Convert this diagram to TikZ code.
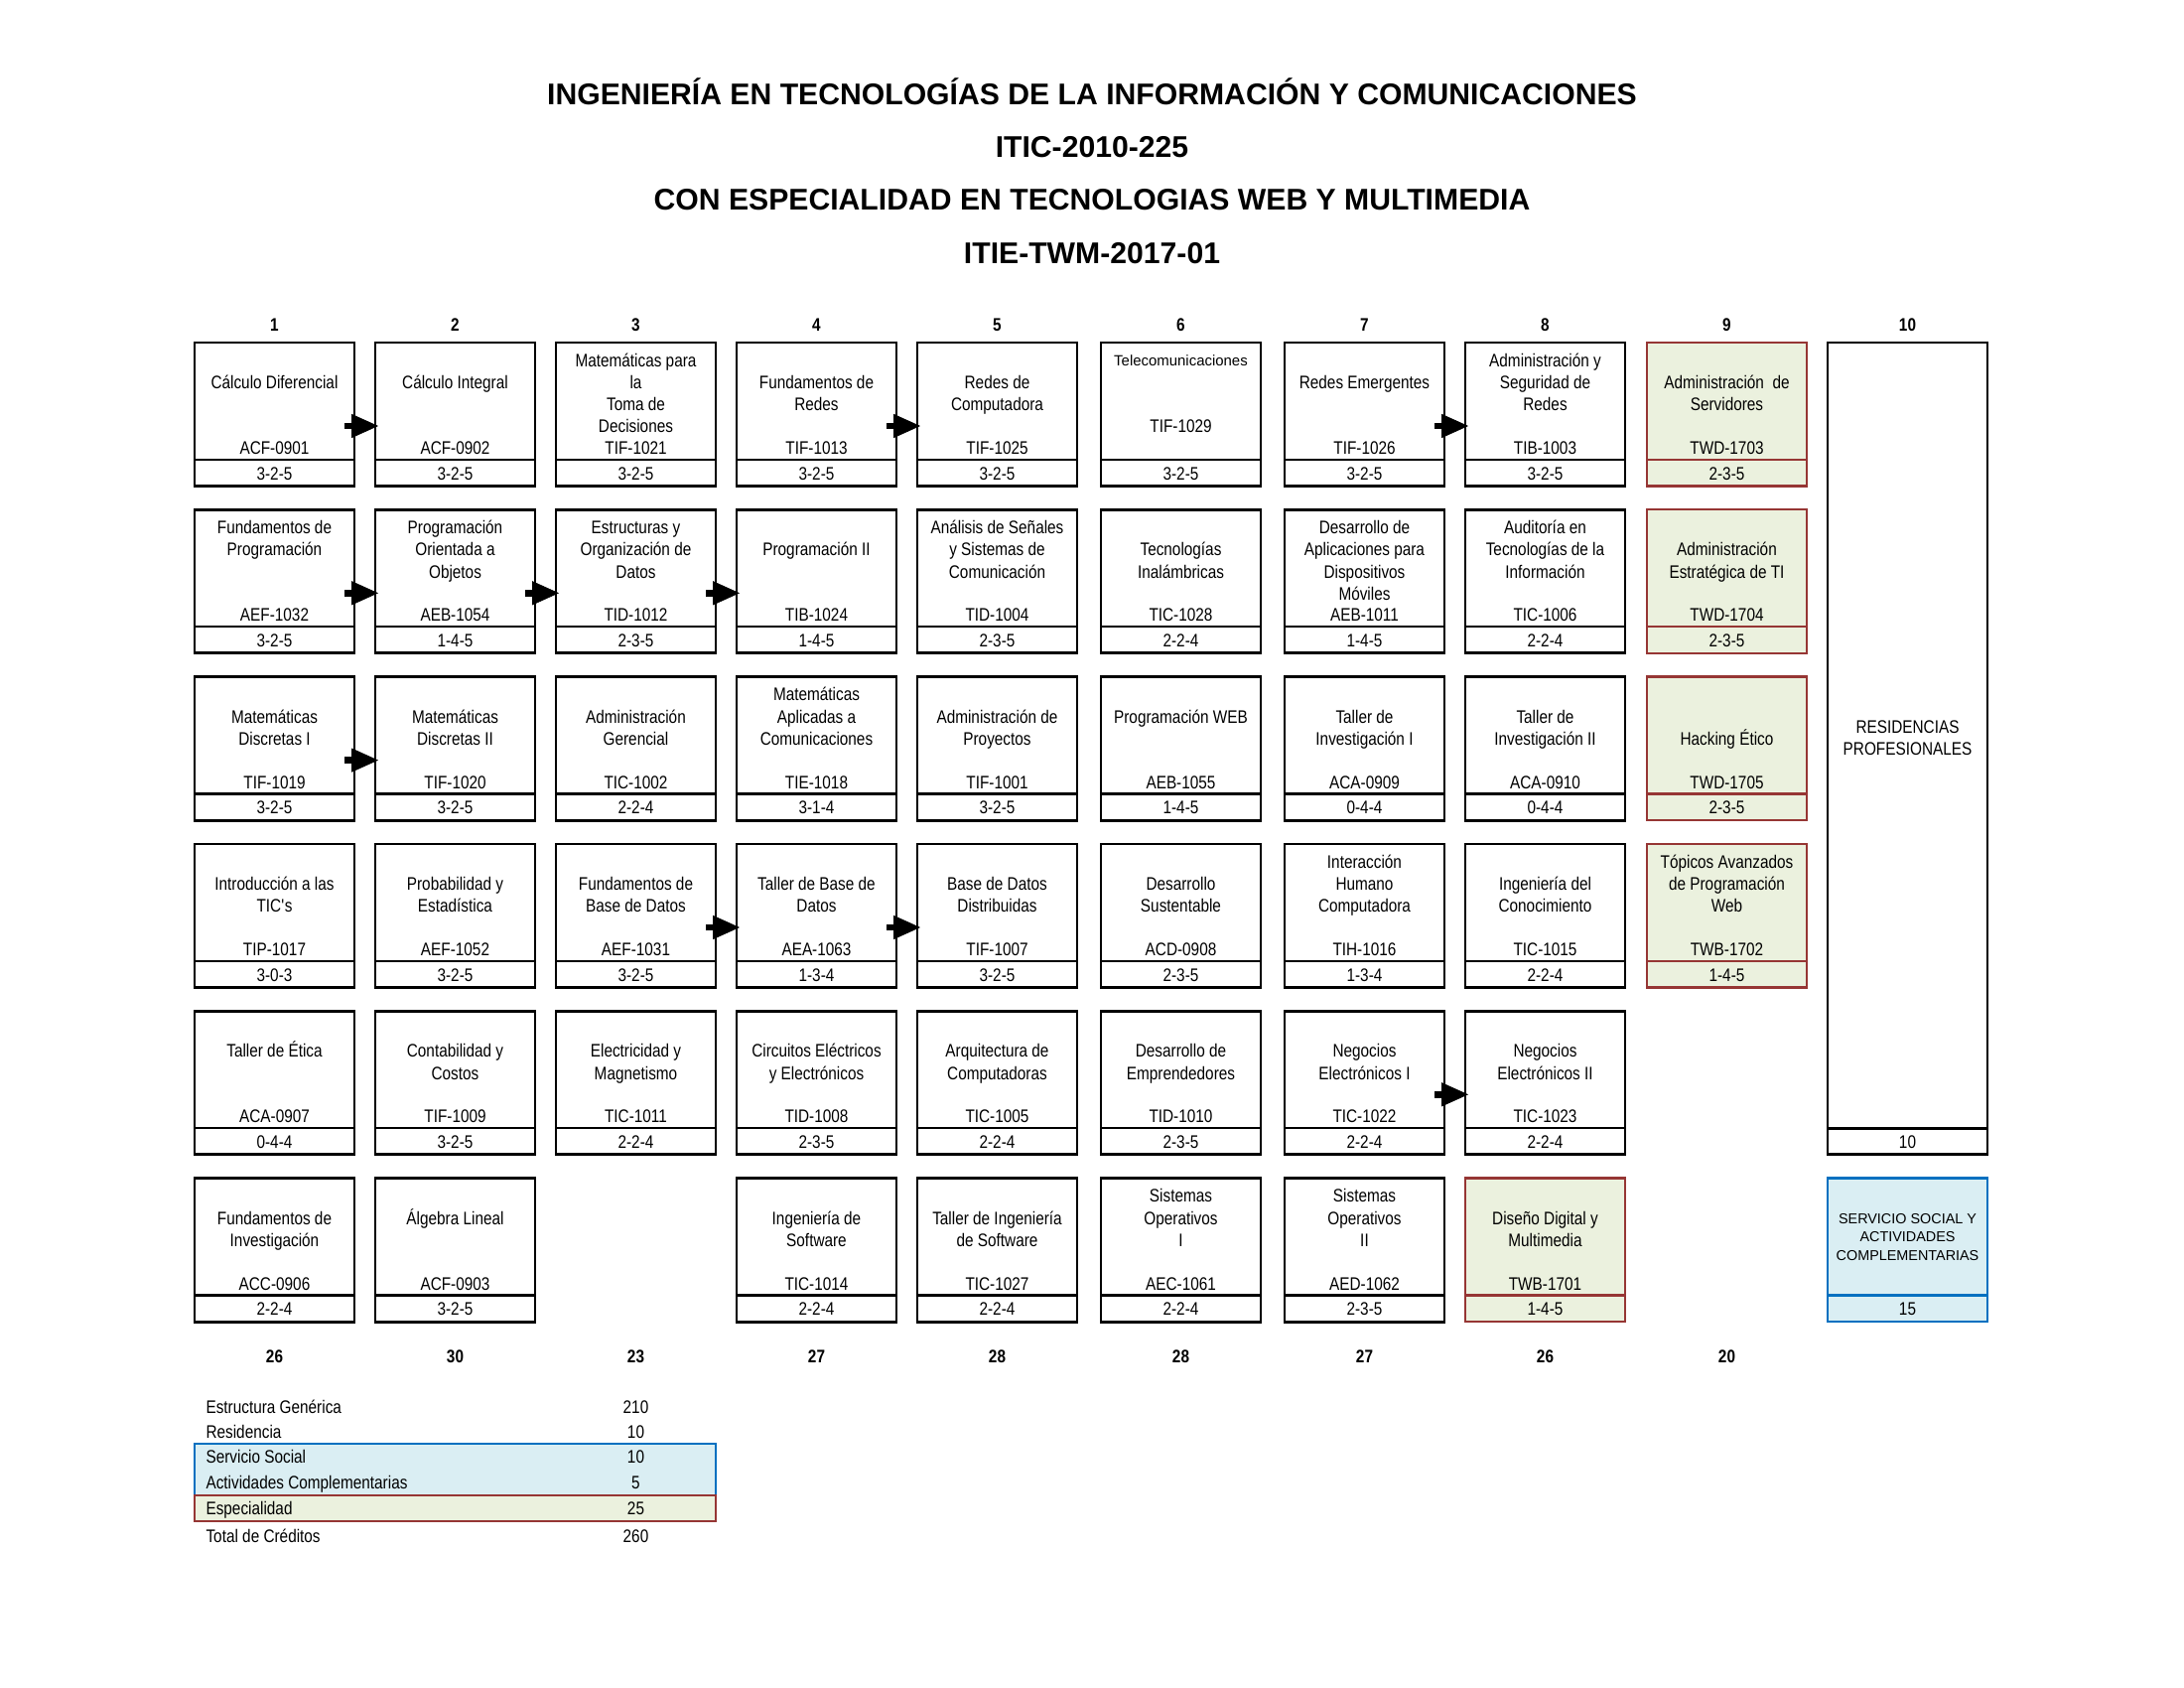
\documentclass[tikz,border=0pt]{standalone}
\usepackage{fontspec}
\setmainfont{Liberation Sans}
\newfontfamily\nar[FakeStretch=0.84]{Liberation Sans}
\usetikzlibrary{arrows.meta}
\definecolor{gfill}{RGB}{235,241,222}
\definecolor{rbord}{RGB}{150,54,52}
\definecolor{bfill}{RGB}{218,238,243}
\definecolor{bbord}{RGB}{0,112,192}
\newcommand\tstrut{\rule{0pt}{6.5pt}}
% #1 style, #2 name, #3 x-left, #4 y-top, #5 first title slot, #6 title, #7 code, #8 credits
\newcommand\curso[8][wbox]{%
  \node[#1] (#2) at (#3,#4) {};
  \draw[#1div] ([shift={(0,-26.5)}]#2.south west) -- ([shift={(0,-26.5)}]#2.south east);
  \node[ttl] (#2t) at ([shift={(80.5,{5.8+22.2*(#5-1)})}]#2.north west) {\tstrut #6};
  \node[cod] (#2c) at ([shift={(80.5,112.5)}]#2.north west) {#7};
  \node[cod] (#2k) at ([shift={(80.5,138)}]#2.north west) {#8};
}
\newcommand\enlace[2]{\draw[arr] ([shift={(-10,84)}]#1.north east) -- ([shift={(3,84)}]#2.north west);}
\begin{document}
\begin{tikzpicture}[x=0.127mm,y=-0.127mm,
  wbox/.style={draw=black,line width=0.356mm,minimum width=20.45mm,minimum height=18.35mm,inner sep=0pt,outer sep=0pt,anchor=north west},
  wboxdiv/.style={draw=black,line width=0.3mm},
  gbox/.style={wbox,draw=rbord,fill=gfill,line width=0.3mm},
  gboxdiv/.style={draw=rbord,line width=0.3mm},
  bbox/.style={wbox,draw=bbord,fill=bfill,line width=0.33mm},
  bboxdiv/.style={draw=bbord,line width=0.33mm},
  txt/.style={font=\nar\fontsize{6.6}{8.02}\selectfont,inner sep=0pt},
  ttl/.style={txt,anchor=north,align=center},
  cod/.style={txt,anchor=base},
  lbl/.style={txt,anchor=base west},
  num/.style={font=\nar\bfseries\fontsize{6.6}{8}\selectfont,inner sep=0pt,anchor=base},
  head/.style={font=\bfseries\fontsize{10.9}{13}\selectfont,inner sep=0pt,anchor=base},
  arr/.style={line width=0.85mm,-{Triangle[length=3.4mm,width=3.05mm,line width=0.2pt]}},
]
\useasboundingbox (0,0) rectangle (2200,1700);

% titles
\node[head] (h1) at (1100,105.3) {INGENIERÍA EN TECNOLOGÍAS DE LA INFORMACIÓN Y COMUNICACIONES};
\node[head] (h2) at (1100,158.8) {ITIC-2010-225};
\node[head] (h3) at (1100,211.3) {CON ESPECIALIDAD EN TECNOLOGIAS WEB Y MULTIMEDIA};
\node[head] (h4) at (1100,265.3) {ITIE-TWM-2017-01};

% column numbers
\foreach \x/\n [count=\i] in {196/1,378/2,560/3,742/4,924/5,1109/6,1294/7,1476/8,1659/9,1841/10}
  \node[num] (col\i) at (\x+80.5,333) {\n};
% semester totals
\foreach \x/\n [count=\i] in {196/26,378/30,560/23,742/27,924/28,1109/28,1294/27,1476/26,1659/20}
  \node[num] (sum\i) at (\x+80.5,1372) {\n};

% row 1
\curso{b11}{196}{345}{2}{Cálculo Diferencial}{ACF-0901}{3-2-5}
\curso{b12}{378}{345}{2}{Cálculo Integral}{ACF-0902}{3-2-5}
\curso{b13}{560}{345}{1}{Matemáticas para\\la\\Toma de\\Decisiones}{TIF-1021}{3-2-5}
\curso{b14}{742}{345}{2}{Fundamentos de\\Redes}{TIF-1013}{3-2-5}
\curso{b15}{924}{345}{2}{Redes de\\Computadora}{TIF-1025}{3-2-5}
\node[wbox] (b16) at (1109,345) {};
\draw[wboxdiv] ([shift={(0,-26.5)}]b16.south west) -- ([shift={(0,-26.5)}]b16.south east);
\node[font=\fontsize{5.4}{6.5}\selectfont,inner sep=0pt,anchor=base] (b16t) at ([shift={(80.5,23.6)}]b16.north west) {Telecomunicaciones};
\node[cod] (b16c) at ([shift={(80.5,90.4)}]b16.north west) {TIF-1029};
\node[cod] (b16k) at ([shift={(80.5,138)}]b16.north west) {3-2-5};
\curso{b17}{1294}{345}{2}{Redes Emergentes}{TIF-1026}{3-2-5}
\curso{b18}{1476}{345}{1}{Administración y\\Seguridad de\\Redes}{TIB-1003}{3-2-5}
\curso[gbox]{b19}{1659}{345}{2}{Administración\ \ de\\Servidores}{TWD-1703}{2-3-5}

% row 2
\curso{b21}{196}{513.3}{1}{Fundamentos de\\Programación}{AEF-1032}{3-2-5}
\curso{b22}{378}{513.3}{1}{Programación\\Orientada a\\Objetos}{AEB-1054}{1-4-5}
\curso{b23}{560}{513.3}{1}{Estructuras y\\Organización de\\Datos}{TID-1012}{2-3-5}
\curso{b24}{742}{513.3}{2}{Programación II}{TIB-1024}{1-4-5}
\curso{b25}{924}{513.3}{1}{Análisis de Señales\\y Sistemas de\\Comunicación}{TID-1004}{2-3-5}
\curso{b26}{1109}{513.3}{2}{Tecnologías\\Inalámbricas}{TIC-1028}{2-2-4}
\curso{b27}{1294}{513.3}{1}{Desarrollo de\\Aplicaciones para\\Dispositivos\\Móviles}{AEB-1011}{1-4-5}
\curso{b28}{1476}{513.3}{1}{Auditoría en\\Tecnologías de la\\Información}{TIC-1006}{2-2-4}
\curso[gbox]{b29}{1659}{513.3}{2}{Administración\\Estratégica de TI}{TWD-1704}{2-3-5}

% row 3
\curso{b31}{196}{681.6}{2}{Matemáticas\\Discretas I}{TIF-1019}{3-2-5}
\curso{b32}{378}{681.6}{2}{Matemáticas\\Discretas II}{TIF-1020}{3-2-5}
\curso{b33}{560}{681.6}{2}{Administración\\Gerencial}{TIC-1002}{2-2-4}
\curso{b34}{742}{681.6}{1}{Matemáticas\\Aplicadas a\\Comunicaciones}{TIE-1018}{3-1-4}
\curso{b35}{924}{681.6}{2}{Administración de\\Proyectos}{TIF-1001}{3-2-5}
\curso{b36}{1109}{681.6}{2}{Programación WEB}{AEB-1055}{1-4-5}
\curso{b37}{1294}{681.6}{2}{Taller de\\Investigación I}{ACA-0909}{0-4-4}
\curso{b38}{1476}{681.6}{2}{Taller de\\Investigación II}{ACA-0910}{0-4-4}
\curso[gbox]{b39}{1659}{681.6}{3}{Hacking Ético}{TWD-1705}{2-3-5}

% row 4
\curso{b41}{196}{850}{2}{Introducción a las\\TIC\textquotesingle s}{TIP-1017}{3-0-3}
\curso{b42}{378}{850}{2}{Probabilidad y\\Estadística}{AEF-1052}{3-2-5}
\curso{b43}{560}{850}{2}{Fundamentos de\\Base de Datos}{AEF-1031}{3-2-5}
\curso{b44}{742}{850}{2}{Taller de Base de\\Datos}{AEA-1063}{1-3-4}
\curso{b45}{924}{850}{2}{Base de Datos\\Distribuidas}{TIF-1007}{3-2-5}
\curso{b46}{1109}{850}{2}{Desarrollo\\Sustentable}{ACD-0908}{2-3-5}
\curso{b47}{1294}{850}{1}{Interacción\\Humano\\Computadora}{TIH-1016}{1-3-4}
\curso{b48}{1476}{850}{2}{Ingeniería del\\Conocimiento}{TIC-1015}{2-2-4}
\curso[gbox]{b49}{1659}{850}{1}{Tópicos Avanzados\\de Programación\\Web}{TWB-1702}{1-4-5}

% row 5
\curso{b51}{196}{1018.3}{2}{Taller de Ética}{ACA-0907}{0-4-4}
\curso{b52}{378}{1018.3}{2}{Contabilidad y\\Costos}{TIF-1009}{3-2-5}
\curso{b53}{560}{1018.3}{2}{Electricidad y\\Magnetismo}{TIC-1011}{2-2-4}
\curso{b54}{742}{1018.3}{2}{Circuitos Eléctricos\\y Electrónicos}{TID-1008}{2-3-5}
\curso{b55}{924}{1018.3}{2}{Arquitectura de\\Computadoras}{TIC-1005}{2-2-4}
\curso{b56}{1109}{1018.3}{2}{Desarrollo de\\Emprendedores}{TID-1010}{2-3-5}
\curso{b57}{1294}{1018.3}{2}{Negocios\\Electrónicos I}{TIC-1022}{2-2-4}
\curso{b58}{1476}{1018.3}{2}{Negocios\\Electrónicos II}{TIC-1023}{2-2-4}

% row 6
\curso{b61}{196}{1186.6}{2}{Fundamentos de\\Investigación}{ACC-0906}{2-2-4}
\curso{b62}{378}{1186.6}{2}{Álgebra Lineal}{ACF-0903}{3-2-5}
\curso{b64}{742}{1186.6}{2}{Ingeniería de\\Software}{TIC-1014}{2-2-4}
\curso{b65}{924}{1186.6}{2}{Taller de Ingeniería\\de Software}{TIC-1027}{2-2-4}
\curso{b66}{1109}{1186.6}{1}{Sistemas\\Operativos\\I}{AEC-1061}{2-2-4}
\curso{b67}{1294}{1186.6}{1}{Sistemas\\Operativos\\II}{AED-1062}{2-3-5}
\curso[gbox]{b68}{1476}{1186.6}{2}{Diseño Digital y\\Multimedia}{TWB-1701}{1-4-5}

% column 10: residencias
\node[wbox,minimum height=103.86mm] (res) at (1841,345) {};
\draw[wboxdiv] ([shift={(0,-26.5)}]res.south west) -- ([shift={(0,-26.5)}]res.south east);
\node[ttl] (rest) at (1921.5,719.5) {\tstrut RESIDENCIAS\\PROFESIONALES};
\node[cod] (resk) at ([shift={(80.5,-6.5)}]res.south west) {10};

% servicio social
\node[bbox] (ss) at (1841,1186.6) {};
\draw[bboxdiv] ([shift={(0,-26.5)}]ss.south west) -- ([shift={(0,-26.5)}]ss.south east);
\node[font=\fontsize{5.2}{6.75}\selectfont,inner sep=0pt,anchor=north,align=center] (sst) at (1921.5,1219.2) {\rule{0pt}{4.5pt}SERVICIO SOCIAL Y\\ACTIVIDADES\\COMPLEMENTARIAS};
\node[cod] (ssk) at ([shift={(80.5,138)}]ss.north west) {15};

% prerequisite arrows
\enlace{b11}{b12}
\enlace{b14}{b15}
\enlace{b17}{b18}
\enlace{b21}{b22}
\enlace{b22}{b23}
\enlace{b23}{b24}
\enlace{b31}{b32}
\enlace{b43}{b44}
\enlace{b44}{b45}
\enlace{b57}{b58}

% credit summary
\fill[bfill] (196,1454) rectangle (721,1506);
\draw[bbord,line width=0.33mm] (196,1454) rectangle (721,1506);
\fill[gfill] (196,1506) rectangle (721,1532.3);
\draw[rbord,line width=0.3mm] (196,1506) rectangle (721,1532.3);
\node[lbl] (l1) at (207,1423.2) {Estructura Genérica};
\node[cod] (v1) at (640.5,1423.2) {210};
\node[lbl] (l2) at (207,1448.2) {Residencia};
\node[cod] (v2) at (640.5,1448.2) {10};
\node[lbl] (l3) at (207,1473.8) {Servicio Social};
\node[cod] (v3) at (640.5,1473.8) {10};
\node[lbl] (l4) at (207,1499.8) {Actividades Complementarias};
\node[cod] (v4) at (640.5,1499.8) {5};
\node[lbl] (l5) at (207,1525.8) {Especialidad};
\node[cod] (v5) at (640.5,1525.8) {25};
\node[lbl] (l6) at (207,1553.2) {Total de Créditos};
\node[cod] (v6) at (640.5,1553.2) {260};
\end{tikzpicture}
\end{document}
